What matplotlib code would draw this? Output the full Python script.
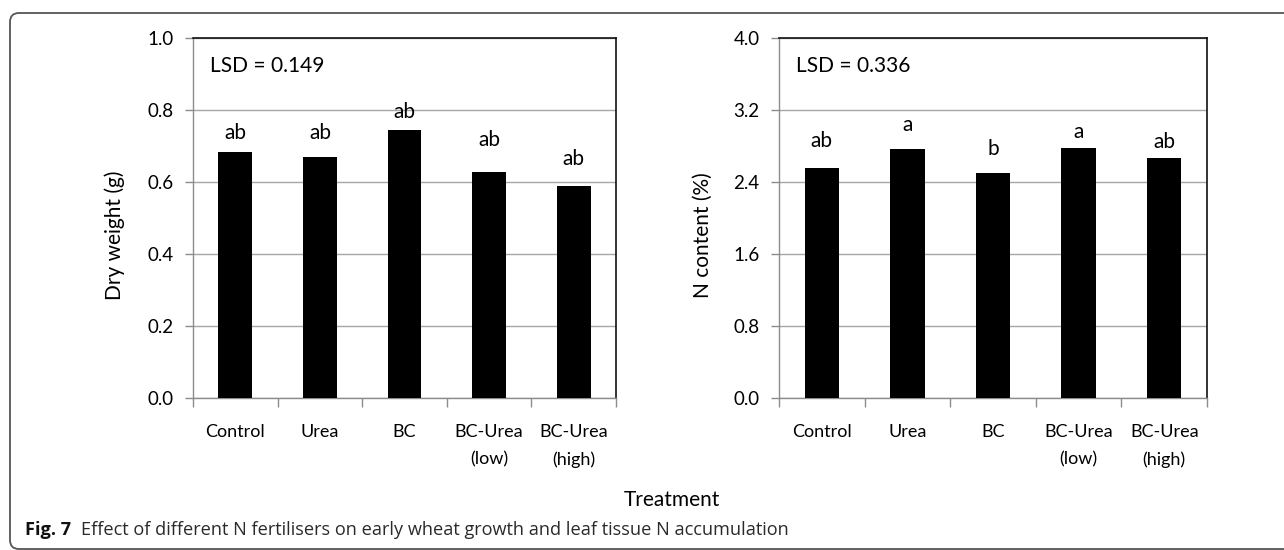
import matplotlib
matplotlib.use("Agg")
import matplotlib.pyplot as plt
from matplotlib.patches import FancyBboxPatch
import numpy as np

plt.rcParams['font.family'] = ['Lato', 'DejaVu Sans']

# Treatments on the x axis
treatments = ["Control", "Urea", "BC", "BC-Urea\n(low)", "BC-Urea\n(high)"]

# Shoot dry weight (g) and leaf N content (%)
dry_weight = [0.684, 0.670, 0.744, 0.629, 0.590]
n_content = [2.56, 2.77, 2.50, 2.78, 2.67]

# Significance letters above each bar
dry_letters = ["ab", "ab", "ab", "ab", "ab"]
n_letters = ["ab", "a", "b", "a", "ab"]

# Least significant differences
dry_lsd = 0.149
n_lsd = 0.336

W, H = 1284, 550
fig = plt.figure(figsize=(W / 100, H / 100), dpi=100)
fig.patch.set_facecolor("white")


def frac_x(px):
    return px / W


def frac_y(py):
    return 1 - py / H


GRID = "#a6a6a6"
AXIS = "#8c8c8c"

# letter gap above each bar, in points
dry_gap = [9, 12.5, 9, 18.5, 15]
n_gap = [15, 12.5, 13, 7, 7]


def panel(left_px, right_px, values, letters, gaps, ymax, step, lsd):
    ax = fig.add_axes([frac_x(left_px), frac_y(398),
                       frac_x(right_px - left_px), (398 - 38) / H])
    x = np.arange(len(values))
    ax.bar(x, values, width=0.4, color="black", zorder=3)
    ax.set_xlim(-0.5, len(values) - 0.5)
    ax.set_ylim(0, ymax)
    yt = np.arange(0, ymax + step / 2, step)
    ax.set_yticks(yt)
    ax.set_yticklabels([f"{v:.1f}" for v in yt])
    ax.yaxis.grid(True, color=GRID, linewidth=1.0, zorder=0)
    ax.set_axisbelow(True)

    ax.set_xticks(x)
    ax.set_xticklabels(treatments, linespacing=1.8)
    ax.set_xticks(np.arange(-0.5, len(values), 1.0), minor=True)
    ax.tick_params(axis="x", which="major", length=0, pad=19, labelsize=13)
    ax.tick_params(axis="x", which="minor", length=6.5, color=AXIS, width=1.0,
                   direction="out")
    ax.tick_params(axis="y", length=6, color=AXIS, width=1.0, pad=8,
                   labelsize=13.5)

    for side in ("left", "bottom"):
        ax.spines[side].set_color(AXIS)
        ax.spines[side].set_linewidth(1.0)
    for side in ("top", "right"):
        ax.spines[side].set_color("#111111")
        ax.spines[side].set_linewidth(1.2)

    for xi, v, lab, g in zip(x, values, letters, gaps):
        ax.annotate(lab, xy=(xi, v), xytext=(0, g), textcoords="offset points",
                    ha="center", va="baseline", fontsize=15, zorder=4)

    ax.text(16.5 / (right_px - left_px), 1 - (71.7 - 38) / 360,
            f"LSD = {lsd:.3f}", transform=ax.transAxes, ha="left",
            va="baseline", fontsize=15)
    return ax


ax1 = panel(193, 616, dry_weight, dry_letters, dry_gap, 1.0, 0.2, dry_lsd)
ax2 = panel(779, 1207, n_content, n_letters, n_gap, 4.0, 0.8, n_lsd)

fig.text(frac_x(115), frac_y(235), "Dry weight (g)", rotation=90,
         ha="center", va="center", fontsize=15)
fig.text(frac_x(703), frac_y(235), "N content (%)", rotation=90,
         ha="center", va="center", fontsize=15)
fig.text(frac_x(672), frac_y(506), "Treatment", ha="center", va="baseline",
         fontsize=15)

# caption
cap_font = ["Open Sans", "DejaVu Sans"]
t1 = fig.text(frac_x(25), frac_y(535), "Fig. 7", ha="left", va="baseline",
              fontsize=13.1, fontweight="bold", family=cap_font,
              color="#111111")
ax1.annotate("Effect of different N fertilisers on early wheat growth and "
             "leaf tissue N accumulation",
             xy=(1, 0), xycoords=t1, xytext=(7, 0), textcoords="offset points",
             ha="left", va="bottom", fontsize=13.1, family=cap_font,
             color="#2a2a2a", annotation_clip=False)

# outer frame with rounded corners, clipped by the figure edges
frame = FancyBboxPatch((0.10, 0.01), 14.0, 5.36,
                       boxstyle="round,pad=0,rounding_size=0.09",
                       transform=fig.dpi_scale_trans, fill=False,
                       edgecolor="#555555", linewidth=1.3)
fig.add_artist(frame)

fig.savefig("out.png", dpi=100, facecolor="white")
